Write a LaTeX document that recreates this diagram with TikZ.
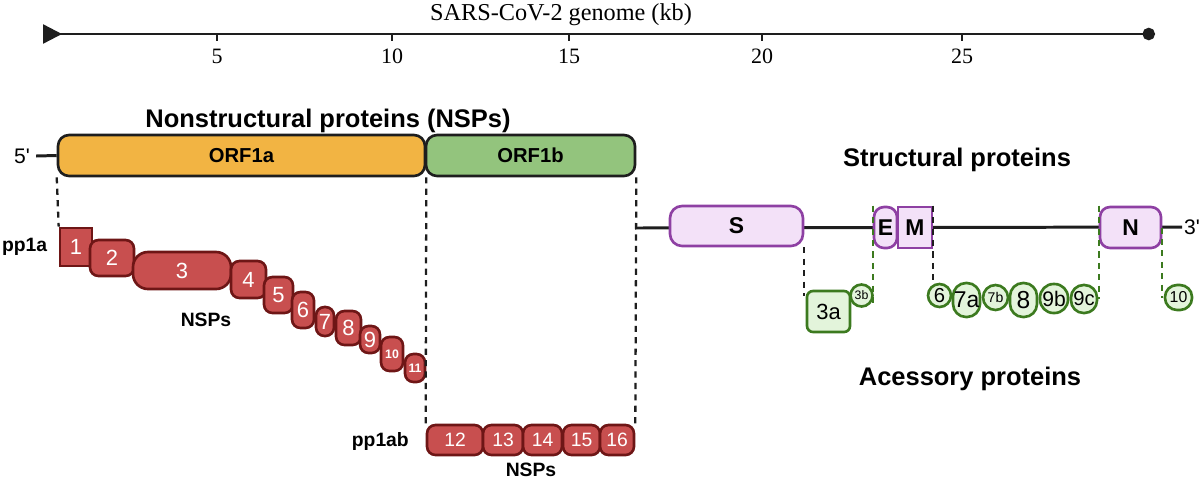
\documentclass[tikz,border=0pt]{standalone}
\usepackage{fontspec}
\setmainfont{Liberation Serif}
\setsansfont{Liberation Sans}
\usetikzlibrary{arrows.meta,positioning}

\definecolor{ink}{HTML}{1E1E1E}
\definecolor{orfa}{HTML}{F2B443}
\definecolor{orfb}{HTML}{93C47D}
\definecolor{nspfill}{HTML}{C84F4F}
\definecolor{nspline}{HTML}{6E1616}
\definecolor{strfill}{HTML}{F3E1F8}
\definecolor{strline}{HTML}{8E40A3}
\definecolor{accfill}{HTML}{E3F4DB}
\definecolor{accline}{HTML}{3C7A1F}

\begin{document}
\begin{tikzpicture}[x=0.02cm, y=-0.02cm,
    gene/.style={draw=ink, line width=1.5pt, rounded corners=0.22cm, inner sep=0pt,
      minimum height=0.82cm, font=\sffamily\bfseries\fontsize{11.5}{12}\selectfont},
    nsp/.style={draw=nspline, fill=nspfill, line width=1.5pt, rounded corners=0.17cm,
      inner sep=0pt, text=white, font=\sffamily\fontsize{12.5}{13}\selectfont},
    struct/.style={draw=strline, fill=strfill, line width=1.5pt, inner sep=0pt,
      minimum height=0.82cm, font=\sffamily\bfseries\fontsize{13}{13}\selectfont},
    acc/.style={draw=accline, fill=accfill, line width=1.5pt, inner sep=0pt,
      font=\sffamily\fontsize{12}{12}\selectfont},
    heading/.style={font=\sffamily\bfseries\fontsize{14.5}{15}\selectfont},
    lbl/.style={font=\sffamily\bfseries\fontsize{11}{11}\selectfont},
    guide/.style={draw=ink, line width=1.3pt, dash pattern=on 3.5pt off 3pt},
    accguide/.style={guide, draw=accline},
    genome/.style={draw=ink, line width=1.7pt}]
    \useasboundingbox (0,0) rectangle (1200,481);

    % genome axis
    \coordinate (ax0) at (43,34);
    \coordinate (ax1) at (1155,34);
    \draw[ink, line width=1.4pt, {Triangle[reversed,length=0.38cm,width=0.38cm]}-{Circle[length=0.25cm]}] (ax0) -- (ax1);
    \foreach \x/\k in {217/5,392/10,569/15,762/20,962/25} {
        \draw[ink, line width=1.4pt] (\x,34) -- (\x,41);
        \node (tick\k) at (\x,56) {\fontsize{12.5}{13}\selectfont\k};
    }
    \node (axtitle) at (561,15) {\fontsize{13.8}{14}\selectfont SARS-CoV-2 genome (kb)};

    % ORFs
    \node[heading] (nsptitle) at (328,121) {Nonstructural proteins (NSPs)};
    \node[font=\sffamily\fontsize{12}{12}\selectfont] (five) at (22,156) {5\textquotesingle};
    \node[gene, fill=orfa, minimum width=7.34cm] (orfa) at (241.5,155.5) {ORF1a};
    \node[gene, fill=orfb, minimum width=4.18cm] (orfb) at (530.5,155.5) {ORF1b};
    \draw[genome] (five.east) -- (orfa.west);

    % pp1a
    \node[lbl, anchor=west, inner sep=1pt] (pp1a) at (0,247) {pp1a};
    \node[nsp, rounded corners=0pt, minimum width=0.64cm, minimum height=0.76cm] (nsp1) at (76,247) {1};
    \node[nsp, minimum width=0.88cm, minimum height=0.72cm] (nsp2) at (112,258) {2};
    \node[nsp, rounded corners=0.3cm, minimum width=1.96cm, minimum height=0.74cm] (nsp3) at (182,270.5) {3};
    \node[nsp, minimum width=0.70cm, minimum height=0.74cm] (nsp4) at (248.5,279.5) {4};
    \node[nsp, minimum width=0.58cm, minimum height=0.72cm] (nsp5) at (278.5,295) {5};
    \node[nsp, minimum width=0.44cm, minimum height=0.72cm] (nsp6) at (303,310) {6};
    \node[nsp, minimum width=0.36cm, minimum height=0.58cm] (nsp7) at (325,321.5) {7};
    \node[nsp, minimum width=0.50cm, minimum height=0.68cm] (nsp8) at (348.5,328) {8};
    \node[nsp, minimum width=0.40cm, minimum height=0.54cm] (nsp9) at (370,339.5) {9};
    \node[nsp, minimum width=0.44cm, minimum height=0.68cm, font=\sffamily\bfseries\fontsize{7}{7}\selectfont] (nsp10) at (392,354) {10};
    \node[nsp, minimum width=0.40cm, minimum height=0.56cm, font=\sffamily\bfseries\fontsize{7}{7}\selectfont] (nsp11) at (415,368) {11};
    \node[lbl] (nspsa) at (206,320) {NSPs};

    % pp1ab
    \node[lbl, anchor=east] (pp1ab) at (415,441) {pp1ab};
    \node[nsp, minimum width=1.12cm, minimum height=0.60cm, font=\sffamily\fontsize{11}{11}\selectfont] (nsp12) at (455,440) {12};
    \node[nsp, minimum width=0.80cm, minimum height=0.60cm, font=\sffamily\fontsize{11}{11}\selectfont] (nsp13) at (503,440) {13};
    \node[nsp, minimum width=0.78cm, minimum height=0.60cm, font=\sffamily\fontsize{11}{11}\selectfont] (nsp14) at (542.5,440) {14};
    \node[nsp, minimum width=0.74cm, minimum height=0.60cm, font=\sffamily\fontsize{11}{11}\selectfont] (nsp15) at (581.5,440) {15};
    \node[nsp, minimum width=0.68cm, minimum height=0.60cm, font=\sffamily\fontsize{11}{11}\selectfont] (nsp16) at (617,440) {16};
    \node[lbl] (nspsb) at (531,470) {NSPs};

    \draw[guide] (orfa.south west) -- (nsp1.north west);
    \draw[guide] (orfa.south east) -- (nsp12.north west);
    \draw[guide] (orfb.south east) -- (nsp16.north east);

    % structural proteins
    \node[heading] (strtitle) at (957,160) {Structural proteins};
    \coordinate (g0) at (635,228);
    \node[anchor=west, inner sep=1pt, font=\sffamily\fontsize{12}{12}\selectfont] (three) at (1182,227) {3\textquotesingle};
    \draw[genome] (g0) -- (three.west);
    \node[struct, rounded corners=0.24cm, minimum width=2.66cm, minimum height=0.80cm] (s) at (736.5,226) {S};
    \node[struct, rounded corners=0.2cm, minimum width=0.46cm] (e) at (885.5,227.5) {E};
    \node[struct, minimum width=0.68cm] (m) at (915,227.5) {M};
    \node[struct, rounded corners=0.2cm, minimum width=1.22cm] (n) at (1130.5,227.5) {N};

    % accessory proteins
    \node[acc, rounded corners=0.12cm, minimum width=0.86cm, minimum height=0.82cm, font=\sffamily\fontsize{12.5}{13}\selectfont] (a3a) at (828.5,311.5) {3a};
    \node[acc, circle, minimum size=0.44cm, font=\sffamily\fontsize{7}{7}\selectfont] (a3b) at (861.5,295.5) {3b};
    \node[acc, circle, minimum size=0.46cm, font=\sffamily\fontsize{11.5}{12}\selectfont] (a6) at (939.5,295.5) {6};
    \node[acc, rounded corners=0.26cm, minimum width=0.54cm, minimum height=0.68cm, font=\sffamily\fontsize{13}{13}\selectfont] (a7a) at (966.5,300) {7a};
    \node[acc, circle, minimum size=0.50cm, font=\sffamily\fontsize{8}{8}\selectfont] (a7b) at (995.5,297.5) {7b};
    \node[acc, rounded corners=0.26cm, minimum width=0.54cm, minimum height=0.68cm, font=\sffamily\fontsize{14}{14}\selectfont] (a8) at (1023.5,300) {8};
    \node[acc, rounded corners=0.27cm, minimum width=0.56cm, minimum height=0.58cm] (a9b) at (1054,298.5) {9b};
    \node[acc, rounded corners=0.25cm, minimum width=0.52cm, minimum height=0.56cm, font=\sffamily\fontsize{11.5}{12}\selectfont] (a9c) at (1084,299) {9c};
    \node[acc, rounded corners=0.24cm, minimum width=0.54cm, minimum height=0.50cm, font=\sffamily\fontsize{9}{9}\selectfont] (a10) at (1178.5,297.5) {10};
    \node[heading] (acctitle) at (970,379) {Acessory proteins};

    \draw[guide] (s.south east) -- (s.south east |- a3b.center);
    \draw[accguide] (e.north west) -- (e.north west |- a3b.south);
    \draw[guide] (m.north east) -- (m.north east |- a6.north);
    \draw[accguide] (n.north west) -- (n.north west |- a9c.east);
    \draw[accguide] (n.east) -- (n.east |- a10.west);
\end{tikzpicture}
\end{document}
